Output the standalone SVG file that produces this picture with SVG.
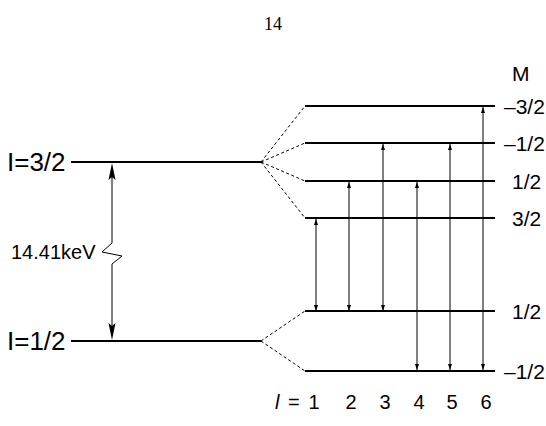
<svg xmlns="http://www.w3.org/2000/svg" width="546" height="426" viewBox="0 0 546 426">
<style>
.lvl{stroke:#000;stroke-width:1.8;fill:none}
.dash{stroke:#000;stroke-width:1;stroke-dasharray:3,2.5;fill:none}
.tr{stroke:#000;stroke-width:1;fill:none;marker-start:url(#ah);marker-end:url(#ah)}
.t{font-family:"Liberation Sans",Arial,sans-serif;fill:#000}
.r{font-size:21px}
.b{font-size:20px}
</style>
<defs>
<marker id="ah" viewBox="0 0 6 4" refX="6" refY="2" markerWidth="6" markerHeight="4" markerUnits="userSpaceOnUse" orient="auto-start-reverse">
<path d="M0,0 L6,2 L0,4 Z" fill="#000"/>
</marker>
</defs>
<rect width="546" height="426" fill="#fff"/>
<text x="273" y="30" text-anchor="middle" font-family="Liberation Serif,serif" font-size="18" fill="#000">14</text>

<g id="level-I32">
<line class="lvl" x1="71" y1="162" x2="261" y2="162"/>
<text class="t" x="7" y="171" font-size="26">I=3/2</text>
</g>
<g id="level-I12">
<line class="lvl" x1="71" y1="341" x2="261" y2="341"/>
<text class="t" x="7" y="350" font-size="26">I=1/2</text>
</g>

<g id="energy-gap">
<polyline points="112,176 112,243 102,252 122,256 112,264 112,327" fill="none" stroke="#000" stroke-width="1"/>
<polygon points="112,163 108.5,180 112,177 115.5,180" fill="#000"/>
<polygon points="112,340 108.5,323 112,326 115.5,323" fill="#000"/>
<text class="t" x="11" y="259" font-size="20">14.41keV</text>
</g>

<g id="M-header"><text class="t r" x="512" y="81">M</text></g>

<g id="m-m32"><line class="lvl" x1="305" y1="106" x2="495" y2="106"/><text class="t r" x="504" y="113.5">–3/2</text></g>
<g id="m-m12"><line class="lvl" x1="305" y1="143" x2="495" y2="143"/><text class="t r" x="504" y="150.5">–1/2</text></g>
<g id="m-p12"><line class="lvl" x1="305" y1="181" x2="495" y2="181"/><text class="t r" x="512" y="188.5">1/2</text></g>
<g id="m-p32"><line class="lvl" x1="305" y1="218" x2="495" y2="218"/><text class="t r" x="512" y="225.5">3/2</text></g>
<g id="g-p12"><line class="lvl" x1="305" y1="311" x2="495" y2="311"/><text class="t r" x="512" y="318.5">1/2</text></g>
<g id="g-m12"><line class="lvl" x1="305" y1="371" x2="495" y2="371"/><text class="t r" x="504" y="378.5">–1/2</text></g>

<g id="connectors">
<line class="dash" x1="261" y1="162" x2="305" y2="106"/>
<line class="dash" x1="261" y1="162" x2="305" y2="143"/>
<line class="dash" x1="261" y1="162" x2="305" y2="181"/>
<line class="dash" x1="261" y1="162" x2="305" y2="218"/>
<line class="dash" x1="261" y1="341" x2="305" y2="311"/>
<line class="dash" x1="261" y1="341" x2="305" y2="371"/>
<line class="tr" x1="316" y1="311" x2="316" y2="219"/>
<line class="tr" x1="349" y1="311" x2="349" y2="182"/>
<line class="tr" x1="383" y1="311" x2="383" y2="144"/>
<line class="tr" x1="417" y1="370" x2="417" y2="182"/>
<line class="tr" x1="450" y1="370" x2="450" y2="144"/>
<line class="tr" x1="483" y1="370" x2="483" y2="107"/>
</g>

<g id="l-labels">
<text class="t b" x="275" y="409" font-style="italic">l</text>
<text class="t b" x="288" y="409">=</text>
<text class="t b" x="314" y="409" text-anchor="middle">1</text>
<text class="t b" x="351" y="409" text-anchor="middle">2</text>
<text class="t b" x="385" y="409" text-anchor="middle">3</text>
<text class="t b" x="419" y="409" text-anchor="middle">4</text>
<text class="t b" x="452" y="409" text-anchor="middle">5</text>
<text class="t b" x="486" y="409" text-anchor="middle">6</text>
</g>
</svg>
